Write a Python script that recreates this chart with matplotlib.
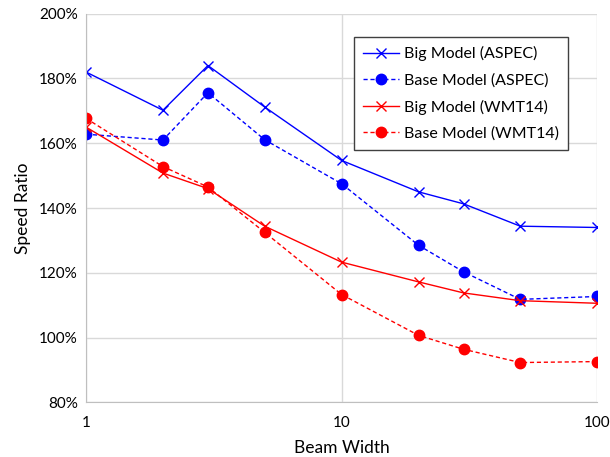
import numpy as np
from matplotlib import pyplot as plt
from matplotlib.ticker import FixedLocator, FuncFormatter, NullLocator

plt.rcParams['font.family'] = ['Lato', 'DejaVu Sans']

# data
beam = [1, 2, 3, 5, 10, 20, 30, 50, 100]
big_aspec = [182.0, 170.2, 184.0, 171.2, 154.7, 145.0, 141.3, 134.4, 134.0]
base_aspec = [162.8, 161.0, 175.6, 161.1, 147.5, 128.5, 120.3, 111.8, 112.7]
big_wmt = [165.0, 150.8, 146.0, 134.4, 123.3, 117.2, 113.8, 111.4, 110.6]
base_wmt = [167.7, 152.8, 146.5, 132.5, 113.3, 100.7, 96.4, 92.3, 92.6]

fig = plt.figure(figsize=(6.1, 4.57), dpi=100)
ax = fig.add_axes([0.141, 0.1195, 0.838, 0.8505])

ax.plot(beam, big_aspec, color='#0000FF', ls='-', lw=1.0, marker='x', ms=7.5, mew=1.0,
        label='Big Model (ASPEC)')
ax.plot(beam, base_aspec, color='#0000FF', ls='--', lw=1.0, marker='o', ms=7.5,
        label='Base Model (ASPEC)', dashes=(3, 2))
ax.plot(beam, big_wmt, color='#FF0000', ls='-', lw=1.0, marker='x', ms=7.5, mew=1.0,
        label='Big Model (WMT14)')
ax.plot(beam, base_wmt, color='#FF0000', ls='--', lw=1.0, marker='o', ms=7.5,
        label='Base Model (WMT14)', dashes=(3, 2))

ax.set_xscale('log')
ax.set_xlim(1, 100)
ax.set_ylim(80, 200)
ax.xaxis.set_major_locator(FixedLocator([1, 10, 100]))
ax.xaxis.set_minor_locator(NullLocator())
ax.xaxis.set_major_formatter(FuncFormatter(lambda v, p: '%d' % v))
ax.set_yticks(np.arange(80, 201, 20))
ax.yaxis.set_major_formatter(FuncFormatter(lambda v, p: '%d%%' % v))

ax.grid(True, color='#D9D9D9', lw=1.0)
ax.set_axisbelow(True)
for s in ['top', 'right']:
    ax.spines[s].set_visible(False)
for s in ['left', 'bottom']:
    ax.spines[s].set_color('#BFBFBF')
ax.tick_params(length=0, labelsize=11, colors='#000000', pad=10)
ax.tick_params(axis='y', pad=6)

ax.set_xlabel('Beam Width', fontsize=12.5, labelpad=7)
ax.set_ylabel('Speed Ratio', fontsize=12.5, labelpad=6)

leg = ax.legend(loc='upper right', bbox_to_anchor=(0.943, 0.939), borderaxespad=0,
                fontsize=11.5, fancybox=False, framealpha=1, edgecolor='#404040',
                handlelength=2.3, labelspacing=0.75, borderpad=0.55, handletextpad=0.3)
leg.get_frame().set_linewidth(1.0)

plt.savefig('out.png', dpi=100)
